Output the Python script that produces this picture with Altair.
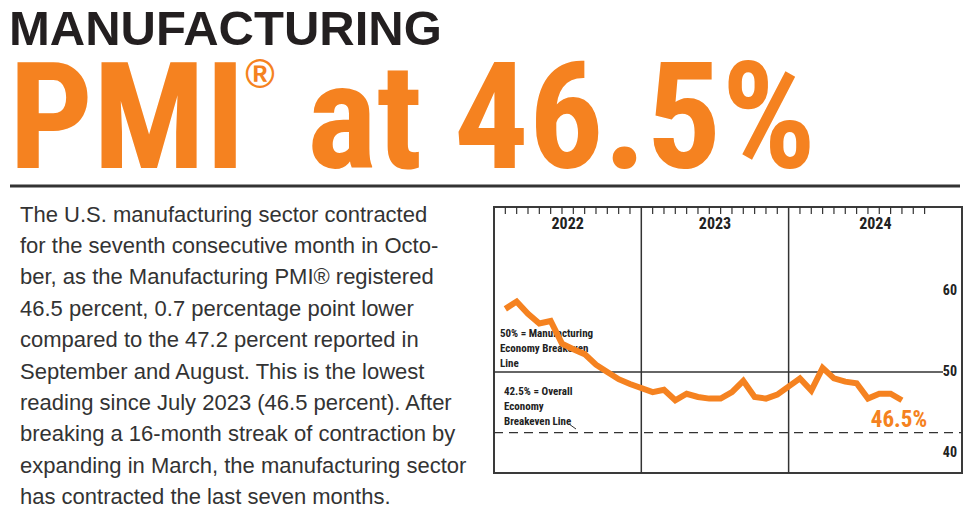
import altair as alt
import pandas as pd

# ---------------- data ----------------
years = [2022] * 12 + [2023] * 12 + [2024] * 10
months = list(range(1, 13)) * 2 + list(range(1, 11))
pmi = [57.8, 58.7, 57.2, 56.0, 56.3, 53.5, 52.8, 52.2, 50.9, 50.0, 49.1, 48.5,
       47.5, 47.8, 46.5, 47.3, 46.9, 46.7, 46.7, 47.5, 48.9, 46.9, 46.7, 47.2,
       49.2, 47.7, 50.5, 49.2, 48.8, 48.6, 46.7, 47.3, 47.3, 46.5]
year_labels = ["2022", "2023", "2024"]
y_ticks = [60, 50, 40]
breakeven_mfg = 50
breakeven_overall = 42.5
latest_label = "46.5%"

headline = "MANUFACTURING"
paragraph = [
    "The U.S. manufacturing sector contracted",
    "for the seventh consecutive month in Octo-",
    "ber, as the Manufacturing PMI\u00ae registered",
    "46.5 percent, 0.7 percentage point lower",
    "compared to the 47.2 percent reported in",
    "September and August. This is the lowest",
    "reading since July 2023 (46.5 percent). After",
    "breaking a 16-month streak of contraction by",
    "expanding in March, the manufacturing sector",
    "has contracted the last seven months.",
]
note_mfg = ["50% = Manufacturing", "Economy Breakeven", "Line"]
note_overall = ["42.5% = Overall", "Economy", "Breakeven Line"]

# ---------------- layout helpers ----------------
ORANGE = "#F58220"
DARK = "#333333"
NARROW = "Noto Sans ExtraCondensed, Noto Sans Condensed, Roboto Condensed, DejaVu Sans Condensed, sans-serif"
SANS = "Liberation Sans, Arial, sans-serif"
SLOTS_PER_YEAR = 13  # 12 months + gap around year boundary
X_MAX = 41.3
Y_DOMAIN = [37.5, 70.4]
W, H = 468, 266

df = pd.DataFrame({"year": years, "month": months, "pmi": pmi})
df["slot"] = (df["year"] - 2022) * SLOTS_PER_YEAR + df["month"]

tick_df = pd.DataFrame(
    [{"slot": i * SLOTS_PER_YEAR + m} for i in range(len(year_labels)) for m in range(1, 13)]
)
div_df = pd.DataFrame({"slot": [i * SLOTS_PER_YEAR for i in range(1, len(year_labels))]})
yl = []
for i, name in enumerate(year_labels):
    start = i * SLOTS_PER_YEAR
    end = (i + 1) * SLOTS_PER_YEAR if i < len(year_labels) - 1 else X_MAX
    yl.append({"label": name, "slot": (start + end) / 2})
yl_df = pd.DataFrame(yl)
ytick_df = pd.DataFrame({"v": y_ticks, "t": [str(v) for v in y_ticks]})
last_df = df.tail(1).assign(label=latest_label)
one = pd.DataFrame({"k": [0]})

xs = alt.Scale(domain=[0, X_MAX], nice=False, zero=False)
ys = alt.Scale(domain=Y_DOMAIN, nice=False, zero=False)
X = lambda f: alt.X(f, type="quantitative", scale=xs, axis=None)
Y = lambda f: alt.Y(f, type="quantitative", scale=ys, axis=None)

layers = []

layers.append(
    alt.Chart(tick_df).mark_rule(color=DARK, strokeWidth=1.2)
    .encode(x=X("slot"), y=alt.value(0), y2=alt.value(7))
)
layers.append(
    alt.Chart(div_df).mark_rule(color=DARK, strokeWidth=1.5)
    .encode(x=X("slot"), y=alt.value(0), y2=alt.value(H))
)
layers.append(
    alt.Chart(pd.DataFrame({"v": [breakeven_mfg]})).mark_rule(color=DARK, strokeWidth=1.5)
    .encode(y=Y("v"), x=alt.value(0), x2=alt.value(449))
)
layers.append(
    alt.Chart(pd.DataFrame({"v": [breakeven_overall]}))
    .mark_rule(color=DARK, strokeWidth=1.3, strokeDash=[9, 6])
    .encode(y=Y("v"), x=alt.value(0), x2=alt.value(W))
)
layers.append(
    alt.Chart(yl_df).mark_text(font=NARROW, fontWeight="bold", fontSize=16, color="#222",
                               baseline="middle")
    .encode(x=X("slot"), y=alt.value(17), text="label:N")
)
layers.append(
    alt.Chart(ytick_df).mark_text(font=NARROW, fontWeight="bold", fontSize=14, color="#222",
                                  align="right", baseline="middle")
    .encode(y=Y("v"), x=alt.value(463), text="t:N")
)
layers.append(
    alt.Chart(one).mark_text(font=NARROW, fontWeight="bold", fontSize=11, color="#222",
                             align="left", baseline="middle", lineHeight=15)
    .encode(x=alt.value(6), y=alt.value(127), text=alt.value(note_mfg))
)
layers.append(
    alt.Chart(one).mark_text(font=NARROW, fontWeight="bold", fontSize=11, color="#222",
                             align="left", baseline="middle", lineHeight=15)
    .encode(x=alt.value(10), y=alt.value(185), text=alt.value(note_overall))
)
layers.append(
    alt.Chart(one).mark_rule(color=DARK, strokeWidth=1)
    .encode(x=alt.value(75), y=alt.value(217), x2=alt.value(82), y2=alt.value(222))
)
layers.append(
    alt.Chart(df).mark_line(color=ORANGE, strokeWidth=6, strokeJoin="miter")
    .encode(x=X("slot"), y=Y("pmi"))
)
layers.append(
    alt.Chart(last_df).mark_text(font=NARROW, fontWeight="bold", fontSize=23, color=ORANGE,
                                 align="center", baseline="alphabetic", dx=-3, dy=27)
    .encode(x=X("slot"), y=Y("pmi"), text="label:N")
)

layers.append(
    alt.Chart(one).mark_text(font=SANS, fontWeight="bold", fontSize=49, color="#231F20",
                             align="left", baseline="alphabetic")
    .encode(x=alt.value(-485), y=alt.value(-162), text=alt.value(headline))
)
for txt, xpos in [("PMI", -485), ("at", -187), ("46.5%", -40)]:
    layers.append(
        alt.Chart(one).mark_text(font=NARROW, fontWeight="bold", fontSize=148, color=ORANGE,
                                 align="left", baseline="alphabetic")
        .encode(x=alt.value(xpos), y=alt.value(-39), text=alt.value(txt))
    )
layers.append(
    alt.Chart(one).mark_text(font=SANS, fontWeight="bold", fontSize=40, color=ORANGE,
                             align="center", baseline="middle")
    .encode(x=alt.value(-234), y=alt.value(-131), text=alt.value("\u00ae"))
)
layers.append(
    alt.Chart(one).mark_rule(color=DARK, strokeWidth=3)
    .encode(x=alt.value(-484), x2=alt.value(466), y=alt.value(-21))
)
layers.append(
    alt.Chart(one).mark_text(font=SANS, fontSize=22, color=DARK, align="left",
                             baseline="alphabetic", lineHeight=31.4)
    .encode(x=alt.value(-474), y=alt.value(14.5), text=alt.value(paragraph))
)

chart = (
    alt.layer(*layers)
    .properties(
        width=W, height=H,
        autosize=alt.AutoSizeParams(type="none"),
        padding={"left": 486, "top": 199, "right": 9, "bottom": 35},
        background="white",
    )
    .configure_view(stroke="#3a3a3a", strokeWidth=2)
)

chart.save("out.html", embed_options={"renderer": "svg", "actions": False})
